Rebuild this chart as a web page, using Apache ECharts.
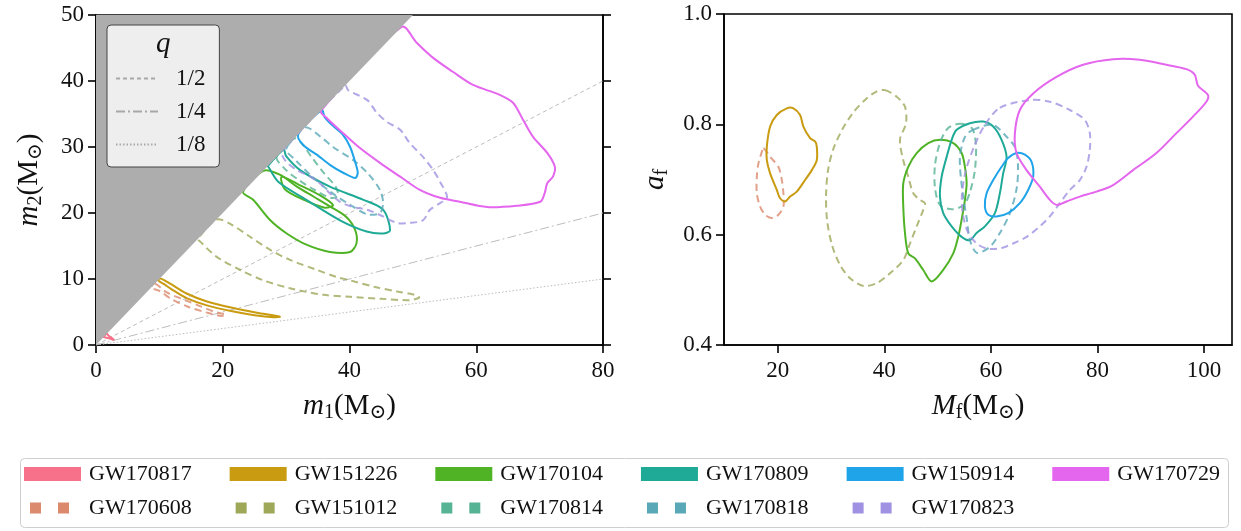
<!DOCTYPE html>
<html><head><meta charset="utf-8">
<script src="https://cdn.jsdelivr.net/npm/echarts@6/dist/echarts.min.js"></script>
<style>html,body{margin:0;padding:0;background:#fff}#c{width:1241px;height:531px}</style>
</head><body><div id="c"></div>
<script>
const FONT = '"Liberation Serif","DejaVu Serif",serif';

// ---- categories / styles ----
const eventNames = ['GW170817','GW170608','GW151226','GW151012','GW170104','GW170814','GW170809','GW170818','GW150914','GW170823','GW170729'];
const eventColors = ['#f7718b','#db8a6d','#c99b10','#9fa759','#50b326','#56b393','#1eaa96','#58a8b7','#1fa4ea','#a191e2','#e566ee'];
const eventDashed = [false,true,false,true,false,true,false,true,false,true,false];
const legendRow1 = ['GW170817','GW151226','GW170104','GW170809','GW150914','GW170729'];
const legendRow2 = ['GW170608','GW151012','GW170814','GW170818','GW170823'];

// ---- mass-ratio reference lines ----
const qValues = [1/2, 1/4, 1/8];
const qLabels = ['1/2','1/4','1/8'];

// ---- tick values ----
const m1Ticks = [0,20,40,60,80];
const m2Ticks = [0,10,20,30,40,50];
const mfTicks = [20,40,60,80,100];
const afTicks = [0.4,0.6,0.8,1.0];

// ---- excluded region m2 > m1 ----
const forbiddenRegion = [[0,0],[50,50],[0,50]];

// ---- (m1, m2) 90% contours ----
const m_GW170817 = [[1.2,1.2],[1.7,1.1],[2.3,0.95],[2.8,0.8],[2.5,1.05],[2.0,1.4],[1.7,1.7]];
const m_GW170608 = [[9.3,9.3],[11.1,8.0],[13.8,6.9],[16.4,5.9],[18.5,5.1],[19.6,4.8],[20.5,4.6],[19.8,4.4],[17.5,4.9],[14.5,5.8],[12.0,6.9],[10.0,8.2],[8.7,8.7]];
const m_GW151226 = [[10.1,10.1],[11.7,9.3],[14.3,7.8],[17.5,6.6],[21.7,5.6],[25.4,4.9],[29.0,4.3],[28.0,4.2],[25.0,4.5],[21.5,5.1],[17.5,6.0],[14.3,7.1],[12.0,8.4],[10.6,9.3],[9.8,9.8]];
const m_GW151012 = [[19.0,19.0],[21.1,18.4],[24.3,16.4],[27.5,14.4],[30.6,12.9],[34.8,11.4],[38.0,10.3],[40.1,9.8],[44.0,8.8],[47.5,8.1],[50.3,7.6],[51.0,7.2],[49.5,6.8],[45.0,7.0],[40.1,7.3],[35.9,7.6],[30.6,8.6],[26.4,9.8],[22.7,11.4],[19.0,13.4],[16.4,15.7],[16.1,16.1]];
const m_GW170104 = [[23.2,23.2],[24.8,22.0],[27.5,18.9],[30.1,16.9],[33.2,15.2],[36.9,14.1],[40.1,14.1],[41.1,15.4],[40.9,17.4],[39.5,19.4],[36.9,21.0],[34.3,22.5],[31.7,24.0],[29.0,25.8],[26.4,26.4]];
const m_GW170104b = [[29.3,25.5],[32.2,24.2],[35.3,22.7],[37.4,21.2],[36.1,20.8],[33.0,21.9],[29.8,23.6]];
const m_GW170814 = [[28.5,28.5],[30.0,26.5],[32.0,25.0],[34.5,23.5],[37.0,22.3],[38.2,22.6],[37.8,24.0],[36.0,26.0],[34.0,28.5],[32.5,30.5],[31.3,31.3]];
const m_GW170809 = [[29.6,29.6],[30.0,28.6],[32.2,26.5],[36.9,24.0],[42.2,22.0],[45.3,20.5],[46.4,17.4],[45.3,16.9],[42.7,17.2],[38.5,18.9],[33.2,22.0],[28.8,24.7],[27.2,27.0],[27.1,27.1]];
const m_GW170818 = [[30.5,30.5],[33.0,33.0],[35.5,31.5],[37.4,30.0],[40.6,28.0],[42.8,26.1],[44.8,23.5],[45.3,21.5],[44.8,20.0],[42.8,19.8],[40.0,21.3],[37.0,23.2],[34.0,25.6],[31.5,28.0],[30.0,29.5]];
const m_GW150914 = [[31.9,31.9],[32.7,30.3],[34.9,28.8],[36.9,27.3],[39.0,26.1],[40.9,25.3],[41.3,26.1],[40.9,27.7],[40.1,30.0],[39.0,31.8],[37.4,33.2],[36.1,34.5],[35.6,35.6]];
const m_GW170823 = [[39.3,39.3],[39.8,38.6],[42.8,37.1],[44.3,35.2],[45.9,33.8],[48.0,32.6],[49.5,30.6],[51.6,28.5],[53.2,26.5],[54.3,24.7],[55.4,22.4],[54.3,21.5],[52.7,20.5],[51.6,18.9],[49.5,18.5],[47.5,18.5],[44.8,19.7],[42.8,20.5],[40.6,20.9],[38.5,21.7],[36.9,23.0],[35.3,24.5],[33.8,25.5],[31.7,26.5],[30.1,27.7],[29.5,28.5],[29.3,29.3]];
const m_GW170729 = [[48.2,48.2],[50.6,45.8],[53.2,43.5],[56.3,41.4],[59.5,39.4],[63.7,37.9],[65.8,36.7],[67.4,34.1],[69.0,31.5],[71.2,29.1],[72.4,27.0],[72.1,25.5],[71.2,24.5],[70.8,23.0],[70.1,21.7],[66.4,21.1],[61.7,20.9],[57.4,21.7],[54.3,22.3],[51.1,23.5],[48.0,25.5],[44.8,27.6],[41.7,29.8],[39.0,32.1],[36.4,34.4],[35.5,35.5]];

// ---- (Mf, af) 90% contours ----
const f_GW170608 = [[17.30,0.757],[18.56,0.741],[20.11,0.723],[20.75,0.699],[21.05,0.675],[21.05,0.651],[20.11,0.636],[18.87,0.630],[17.62,0.636],[16.68,0.651],[16.06,0.675],[16.06,0.705],[16.36,0.729],[17.00,0.750]];
const f_GW151226 = [[17.94,0.760],[18.56,0.796],[19.81,0.817],[21.69,0.829],[22.93,0.829],[24.18,0.817],[24.80,0.796],[26.06,0.775],[26.99,0.769],[27.31,0.760],[27.31,0.735],[26.38,0.717],[25.12,0.699],[23.56,0.678],[22.31,0.669],[21.37,0.660],[20.43,0.666],[19.81,0.681],[18.56,0.711],[17.94,0.735]];
const f_GW151012 = [[40.12,0.862],[42.31,0.850],[43.87,0.832],[44.06,0.802],[42.93,0.772],[43.55,0.735],[44.49,0.705],[45.43,0.675],[46.68,0.663],[47.62,0.657],[47.30,0.645],[46.06,0.615],[44.81,0.584],[43.55,0.554],[41.06,0.530],[38.56,0.512],[36.05,0.507],[33.56,0.521],[31.68,0.545],[30.18,0.581],[29.24,0.627],[29.06,0.672],[29.43,0.717],[30.37,0.754],[32.06,0.790],[34.12,0.821],[36.56,0.846],[38.43,0.859]];
const f_GW170104 = [[50.44,0.772],[52.93,0.766],[54.50,0.748],[55.12,0.723],[55.44,0.693],[55.12,0.663],[54.50,0.627],[53.86,0.596],[52.93,0.566],[51.05,0.536],[48.88,0.515],[47.30,0.536],[45.75,0.557],[44.49,0.566],[43.87,0.603],[43.55,0.651],[43.55,0.693],[44.49,0.723],[46.06,0.748],[48.24,0.766]];
const f_GW170814 = [[54.18,0.801],[56.43,0.793],[57.18,0.763],[56.99,0.717],[56.06,0.677],[54.93,0.654],[52.68,0.646],[50.43,0.654],[49.50,0.685],[49.50,0.726],[50.43,0.766],[51.93,0.793]];
const f_GW170809 = [[53.56,0.790],[56.06,0.802],[58.55,0.805],[60.43,0.796],[62.00,0.772],[62.94,0.741],[62.30,0.711],[61.68,0.675],[60.75,0.639],[58.87,0.615],[57.31,0.603],[56.06,0.590],[54.50,0.596],[52.63,0.615],[51.05,0.639],[50.43,0.669],[50.75,0.705],[51.69,0.741],[52.63,0.772]];
const f_GW170818 = [[56.62,0.790],[60.37,0.799],[62.99,0.777],[64.49,0.759],[65.06,0.730],[64.87,0.686],[63.56,0.639],[61.68,0.603],[59.81,0.578],[57.37,0.567],[56.06,0.590],[55.49,0.627],[54.56,0.686],[54.18,0.741],[55.12,0.777]];
const f_GW150914 = [[64.82,0.748],[66.37,0.745],[67.63,0.732],[67.93,0.705],[66.99,0.681],[65.43,0.657],[63.24,0.639],[61.06,0.633],[59.49,0.636],[58.87,0.651],[59.19,0.675],[60.43,0.699],[62.00,0.723],[63.24,0.739]];
const f_GW170823 = [[61.68,0.830],[67.31,0.844],[71.06,0.841],[74.81,0.826],[77.62,0.808],[78.56,0.784],[78.56,0.754],[77.94,0.723],[76.69,0.699],[74.81,0.681],[72.93,0.657],[71.06,0.633],[69.18,0.615],[66.69,0.596],[64.18,0.584],[61.68,0.575],[59.19,0.575],[57.31,0.584],[55.68,0.605],[54.75,0.636],[54.56,0.672],[55.31,0.717],[56.99,0.763],[58.87,0.799]];
const f_GW170729 = [[64.50,0.784],[65.43,0.826],[67.93,0.856],[72.31,0.886],[77.30,0.908],[82.93,0.918],[87.94,0.917],[92.94,0.908],[96.69,0.900],[98.25,0.890],[98.87,0.870],[100.74,0.853],[100.44,0.841],[97.93,0.814],[94.82,0.784],[91.07,0.748],[86.68,0.717],[82.93,0.690],[79.82,0.678],[76.69,0.669],[74.19,0.660],[72.31,0.654],[71.06,0.663],[69.18,0.687],[66.69,0.717],[64.81,0.748]];

// lookup tables built from the arrays above
const massContours = {
  GW170817:[m_GW170817], GW170608:[m_GW170608], GW151226:[m_GW151226], GW151012:[m_GW151012],
  GW170104:[m_GW170104, m_GW170104b], GW170814:[m_GW170814], GW170809:[m_GW170809], GW170818:[m_GW170818],
  GW150914:[m_GW150914], GW170823:[m_GW170823], GW170729:[m_GW170729]
};
const finalContours = {
  GW170608:[f_GW170608], GW151226:[f_GW151226], GW151012:[f_GW151012], GW170104:[f_GW170104],
  GW170814:[f_GW170814], GW170809:[f_GW170809], GW170818:[f_GW170818], GW150914:[f_GW150914],
  GW170823:[f_GW170823], GW170729:[f_GW170729]
};

function contourSeries(name, loops, gi) {
  const k = eventNames.indexOf(name);
  const color = eventColors[k], dashed = eventDashed[k];
  const data = [].concat(...loops);
  return {
    type:'custom', name: name, xAxisIndex: gi, yAxisIndex: gi, data: data, z: 2, clip: true, silent: true,
    encode:{x:0, y:1}, itemStyle:{color: color},
    renderItem: function(params, api){
      if (params.dataIndex !== 0) return null;
      return {type:'group', children: loops.map(function(loop){
        return {type:'polygon', shape:{points: loop.map(function(p){return api.coord(p);}), smooth:0.3},
          style:{fill:'none', stroke: color, lineWidth: 2, lineDash: dashed ? [7,4.5] : null, opacity: dashed ? 0.8 : 1}};
      })};
    }
  };
}

const series = [];
qValues.forEach(function(q, i){
  series.push({type:'line', name: qLabels[i], xAxisIndex:0, yAxisIndex:0, silent:true, z:1,
    symbol:'none', showSymbol:false, itemStyle:{color:'#bcbcbc'},
    data:[[0,0],[m1Ticks[m1Ticks.length-1], m1Ticks[m1Ticks.length-1]*q]],
    lineStyle:{color:'#bcbcbc', width:1, type: i===0 ? [4,3] : (i===1 ? [9,3,2,3] : [1.5,2])}});
});
eventNames.forEach(function(n){ if (massContours[n]) series.push(contourSeries(n, massContours[n], 0)); });
eventNames.forEach(function(n){ if (finalContours[n]) series.push(contourSeries(n, finalContours[n], 1)); });
series.push({type:'custom', xAxisIndex:0, yAxisIndex:0, data: forbiddenRegion, z:3, silent:true, clip:true,
  encode:{x:0,y:1},
  renderItem: function(params, api){
    if (params.dataIndex !== 0) return null;
    return {type:'polygon', shape:{points: forbiddenRegion.map(function(p){return api.coord(p);})}, style:{fill:'#adadad'}};
  }});

const rich = {
  i:{fontFamily:FONT, fontStyle:'italic', fontSize:29, color:'#111'},
  n:{fontFamily:FONT, fontSize:29, color:'#111'},
  s:{fontFamily:FONT, fontSize:20, color:'#111', padding:[13,0,0,0]}
};
const tickLabel = {fontFamily:FONT, fontSize:23, color:'#111'};
const axLine = {show:true, onZero:false, lineStyle:{color:'#000', width:1.6}};
const axTick = {show:true, length:8, inside:false, lineStyle:{color:'#000', width:1.6}};

const DASH_ICON = 'path://M0,0L0,0M57,14L57,14M6,1.5h11v11h-11zM34,1.5h11v11h-11z';
const legendText = {fontFamily:FONT, fontSize:22, color:'#111', padding:[0,0,0,3]};

const option = {
  animation:false,
  backgroundColor:'#fff',
  grid:[
    {left:96, top:15, width:507, height:330, show:true, borderColor:'#000', borderWidth:1.6, backgroundColor:'transparent'},
    {left:724, top:14, width:508, height:331, show:true, borderColor:'#000', borderWidth:1.6, backgroundColor:'transparent'}
  ],
  xAxis:[
    {gridIndex:0, type:'value', min:m1Ticks[0], max:m1Ticks[m1Ticks.length-1], interval:20,
     axisLine:axLine, axisTick:axTick, splitLine:{show:false},
     axisLabel:Object.assign({margin:14}, tickLabel),
     name:'{i|m}{s|1}{n|(M}{s|⊙}{n|)}', nameLocation:'middle', nameGap:45, nameTextStyle:{rich:rich}},
    {gridIndex:1, type:'value', min:9.9, max:105.25,
     axisLine:axLine, axisTick:Object.assign({customValues:mfTicks}, axTick), splitLine:{show:false},
     axisLabel:Object.assign({margin:14, customValues:mfTicks}, tickLabel),
     name:'{i|M}{s|f}{n|(M}{s|⊙}{n|)}', nameLocation:'middle', nameGap:45, nameTextStyle:{rich:rich}}
  ],
  yAxis:[
    {gridIndex:0, type:'value', min:m2Ticks[0], max:m2Ticks[m2Ticks.length-1], interval:10,
     axisLine:axLine, axisTick:axTick, splitLine:{show:false},
     axisLabel:Object.assign({margin:12}, tickLabel),
     name:'{i|m}{s|2}{n|(M}{s|⊙}{n|)}', nameLocation:'middle', nameGap:50, nameTextStyle:{rich:rich}},
    {gridIndex:1, type:'value', min:afTicks[0], max:afTicks[afTicks.length-1],
     axisLine:axLine, axisTick:Object.assign({customValues:afTicks}, axTick), splitLine:{show:false},
     axisLabel:Object.assign({margin:12, customValues:afTicks, formatter:function(v){return v.toFixed(1);}}, tickLabel),
     name:'{i|a}{s|f}', nameLocation:'middle', nameGap:52, nameTextStyle:{rich:rich}},
    {gridIndex:0, type:'value', position:'right', min:m2Ticks[0], max:m2Ticks[m2Ticks.length-1], interval:10,
     axisLine:axLine, axisTick:axTick, axisLabel:{show:false}, splitLine:{show:false}}
  ],
  legend:[
    {data: legendRow1.map(function(n){return {name:n, icon:'rect'};}), orient:'horizontal', left:24, top:463, padding:0,
     itemWidth:57, itemHeight:14, itemGap:38, selectedMode:false, textStyle:legendText},
    {data: legendRow2.map(function(n){return {name:n, icon:DASH_ICON};}), orient:'horizontal', left:24, top:497, padding:0,
     itemWidth:57, itemHeight:14, itemGap:38, selectedMode:false, textStyle:legendText},
    {data: qLabels, orient:'vertical', left:107, top:25, padding:[42,14,11,8], itemWidth:42, itemHeight:10, itemGap:10,
     selectedMode:false, backgroundColor:'rgba(241,241,241,0.95)', borderColor:'#444', borderWidth:1, borderRadius:4,
     itemStyle:{opacity:0}, lineStyle:{color:'#a8a8a8'},
     textStyle:{fontFamily:FONT, fontSize:23, color:'#111', padding:[0,0,0,13]}}
  ],
  graphic:[
    {type:'rect', left:20, top:458, z:-10, shape:{width:1208, height:69, r:4}, style:{fill:'#fff', stroke:'#cfcfcf', lineWidth:1}},
    {type:'text', left:156, top:30, z:100, style:{text:'q', font:'italic 29px "Liberation Serif", serif', fill:'#111'}}
  ],
  series: series
};
const chart = echarts.init(document.getElementById('c'), null, {renderer:'canvas'});
chart.setOption(option);
</script></body></html>
